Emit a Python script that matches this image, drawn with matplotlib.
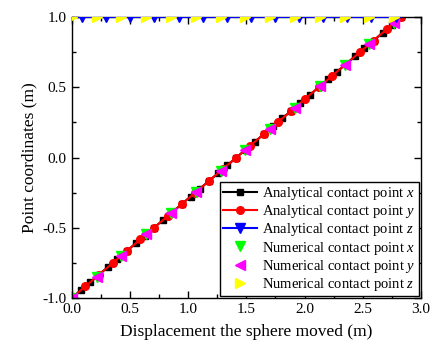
import matplotlib
matplotlib.use("Agg")
import matplotlib.pyplot as plt
from matplotlib.ticker import MultipleLocator, FormatStrFormatter

plt.rcParams['font.family'] = ['Liberation Serif', 'DejaVu Serif']
plt.rcParams['mathtext.fontset'] = 'custom'
plt.rcParams['mathtext.it'] = 'Liberation Serif:italic'
plt.rcParams['mathtext.rm'] = 'Liberation Serif'

# Analytical contact point x (black squares)
ana_x_disp = [0, 0.079, 0.157, 0.236, 0.314, 0.393, 0.471, 0.55, 0.629, 0.707, 0.786, 0.864,
              0.943, 1.021, 1.1, 1.179, 1.257, 1.336, 1.414, 1.493, 1.571, 1.65, 1.728, 1.807,
              1.886, 1.964, 2.043, 2.121, 2.2, 2.279, 2.357, 2.436, 2.514, 2.593, 2.671, 2.75, 2.828]
ana_x_val = [-1, -0.944, -0.889, -0.833, -0.778, -0.722, -0.667, -0.611, -0.556, -0.5, -0.444,
             -0.389, -0.333, -0.278, -0.222, -0.167, -0.111, -0.056, 0, 0.056, 0.111, 0.167,
             0.222, 0.278, 0.333, 0.389, 0.444, 0.5, 0.556, 0.611, 0.667, 0.722, 0.778, 0.833,
             0.889, 0.944, 1.0]

# Analytical contact point y (red circles)
ana_y_disp = [0, 0.118, 0.236, 0.354, 0.471, 0.589, 0.707, 0.825, 0.943, 1.061, 1.179, 1.296,
              1.414, 1.532, 1.65, 1.768, 1.886, 2.003, 2.121, 2.239, 2.357, 2.475, 2.593, 2.711, 2.828]
ana_y_val = [-1, -0.917, -0.833, -0.75, -0.667, -0.583, -0.5, -0.417, -0.333, -0.25, -0.167,
             -0.083, 0, 0.083, 0.167, 0.25, 0.333, 0.417, 0.5, 0.583, 0.667, 0.75, 0.833, 0.917, 1.0]

# Analytical contact point z (blue down triangles)
ana_z_disp = [0, 0.09, 0.297, 0.504, 0.711, 0.918, 1.125, 1.332, 1.539, 1.746, 1.953, 2.16,
              2.367, 2.574, 2.781, 2.828]
ana_z_val = [1.0] * 16
ana_z_marks = list(range(1, 15))

# Numerical contact points
num_disp = [0, 0.213, 0.426, 0.639, 0.852, 1.065, 1.278, 1.491, 1.704, 1.917, 2.13, 2.343, 2.556, 2.769]
num_x_val = [-1, -0.849, -0.699, -0.548, -0.398, -0.247, -0.096, 0.054, 0.205, 0.356, 0.506, 0.657, 0.807, 0.958]
num_y_val = [-1, -0.849, -0.699, -0.548, -0.398, -0.247, -0.096, 0.054, 0.205, 0.356, 0.506, 0.657, 0.807, 0.958]
num_z_val = [1.0] * 14

fig = plt.figure(figsize=(4.33, 3.56), dpi=100)
ax = fig.add_axes([0.1656, 0.163, 0.9723 - 0.1656, 0.952 - 0.163])

ax.plot(ana_x_disp, ana_x_val, color='black', lw=1.5, marker='s', ms=5,
        label='Analytical contact point $x$')
ax.plot(ana_y_disp, ana_y_val, color='red', lw=1.5, marker='o', ms=5.5,
        label='Analytical contact point $y$')
ax.plot(ana_z_disp, ana_z_val, color='blue', lw=1.5, marker='v', ms=7, markevery=ana_z_marks,
        label='Analytical contact point $z$', zorder=3)
ax.plot(num_disp, num_x_val, ls='none', color='#00ff00', marker='v', ms=6.5,
        label='Numerical contact point $x$')
ax.plot(num_disp, num_y_val, ls='none', color='#ff00ff', marker='<', ms=7,
        label='Numerical contact point $y$')
ax.plot(num_disp, num_z_val, ls='none', color='#ffff00', marker='>', ms=7,
        label='Numerical contact point $z$', zorder=3)

ax.set_xlim(0, 3.0)
ax.set_ylim(-1.0, 1.0)
ax.xaxis.set_major_locator(MultipleLocator(0.5))
ax.xaxis.set_minor_locator(MultipleLocator(0.25))
ax.yaxis.set_major_locator(MultipleLocator(0.5))
ax.yaxis.set_minor_locator(MultipleLocator(0.25))
ax.xaxis.set_major_formatter(FormatStrFormatter('%.1f'))
ax.yaxis.set_major_formatter(FormatStrFormatter('%.1f'))
ax.tick_params(which='both', direction='in', top=True, right=True, labelsize=11, width=1.0)
ax.tick_params(which='major', length=5)
ax.tick_params(which='minor', length=3)
for s in ax.spines.values():
    s.set_linewidth(1.0)

ax.set_xlabel('Displacement the sphere moved (m)', fontsize=12.5, labelpad=6)
ax.set_ylabel('Point coordinates (m)', fontsize=12.5, labelpad=4)

leg = ax.legend(loc='lower right', fontsize=10.5, frameon=True, fancybox=False,
                edgecolor='black', framealpha=1, borderaxespad=0.15, handlelength=2.3,
                handletextpad=0.4, labelspacing=0.08, borderpad=0.2)
leg.get_frame().set_linewidth(1.0)

fig.savefig('out.png', dpi=100)
